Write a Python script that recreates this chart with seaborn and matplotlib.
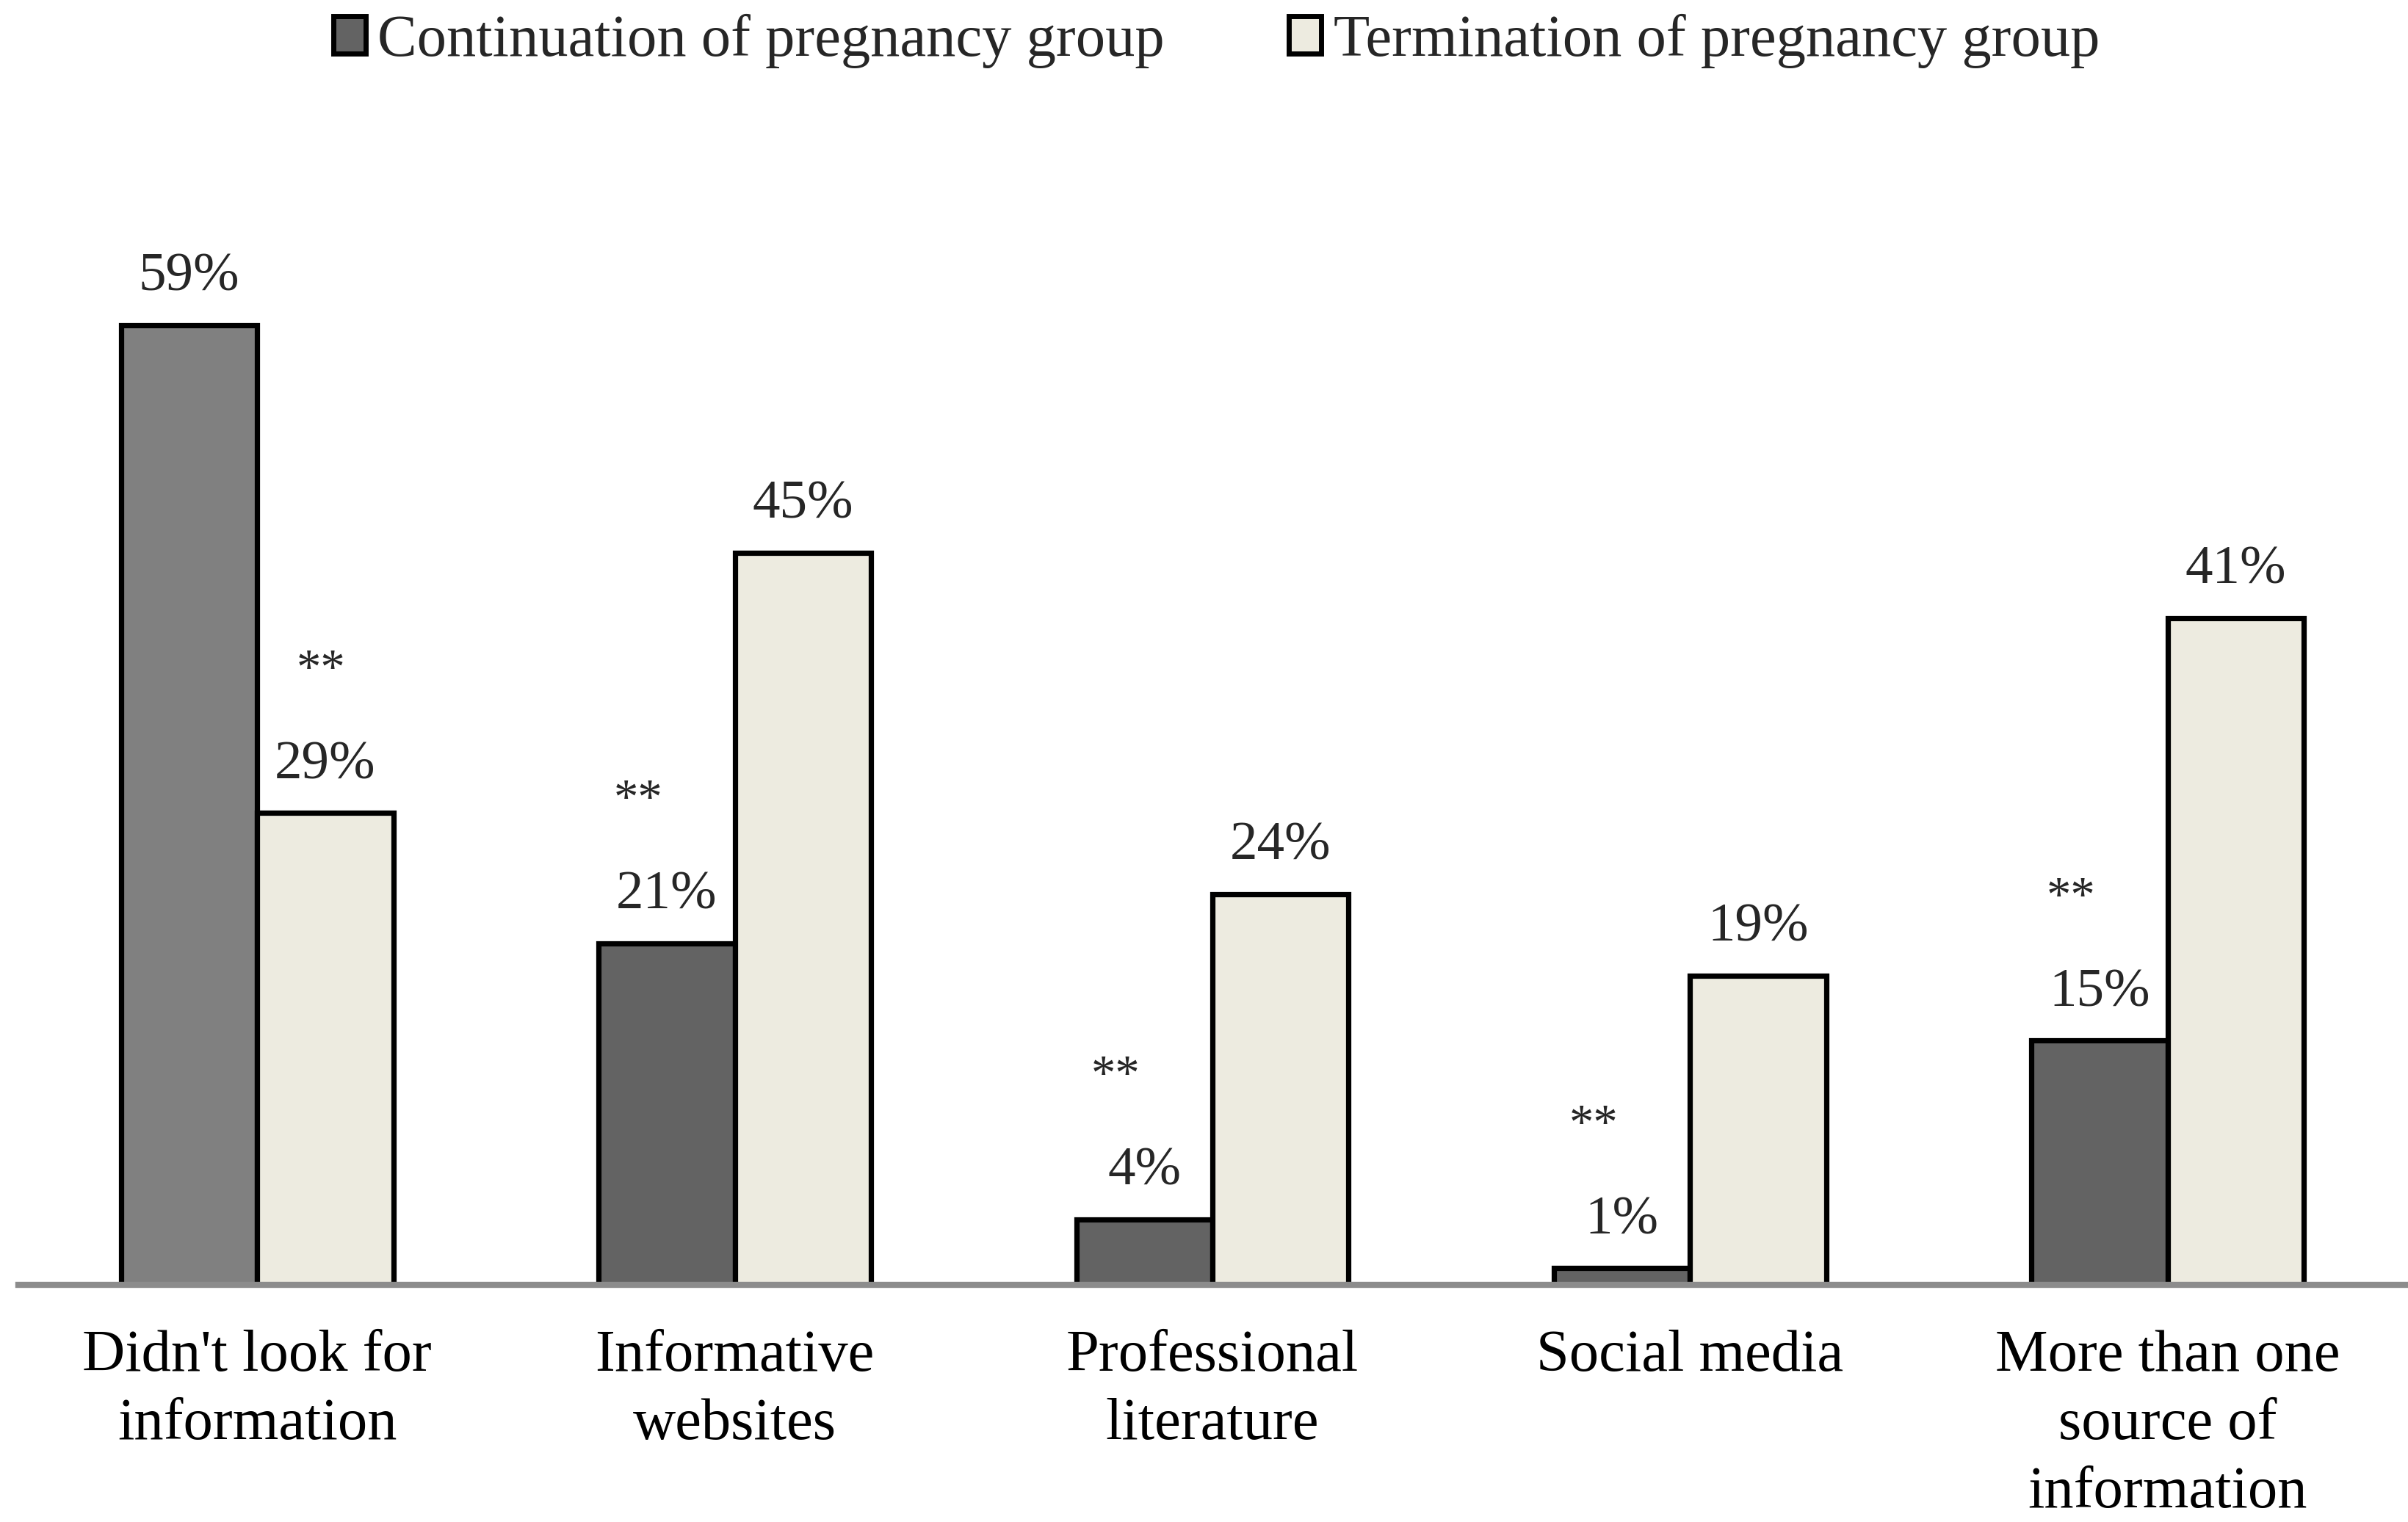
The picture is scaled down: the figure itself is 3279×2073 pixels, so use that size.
import pandas as pd
import seaborn as sns
import matplotlib.pyplot as plt
from matplotlib.patches import Patch

# -------------------------------------------------------------------
# Data
# -------------------------------------------------------------------
categories = [
    "Didn't look for\ninformation",
    "Informative\nwebsites",
    "Professional\nliterature",
    "Social media",
    "More than one\nsource of\ninformation",
]
groups = ["Continuation of pregnancy group", "Termination of pregnancy group"]
continuation = [59, 21, 4, 1, 15]
termination = [29, 45, 24, 19, 41]
# which group carries the "**" marker in each category
star_group = [groups[1], groups[0], groups[0], groups[0], groups[0]]

COLORS = {groups[0]: "#636363", groups[1]: "#EDEBE0"}
FIRST_BAR_COLOR = "#808080"

sns.set_theme(style="white")
plt.rcParams["font.family"] = ["Liberation Serif", "DejaVu Serif"]

df = pd.DataFrame({
    "category": categories * 2,
    "group": [groups[0]] * len(categories) + [groups[1]] * len(categories),
    "pct": continuation + termination,
})

fig = plt.figure(figsize=(16.4, 10.365), dpi=200)
ax = fig.add_axes([0.0076, 0.156, 0.9915, 0.705])

sns.barplot(
    data=df, x="category", y="pct", hue="group",
    order=categories, hue_order=groups,
    palette=[COLORS[g] for g in groups], saturation=1,
    width=0.57, edgecolor="black", linewidth=2.6,
    errorbar=None, legend=False, ax=ax,
)

# first bar is drawn a lighter grey in the original
ax.containers[0][0].set_facecolor(FIRST_BAR_COLOR)

values = {groups[0]: continuation, groups[1]: termination}
for container, g in zip(ax.containers, groups):
    for i, (bar, v) in enumerate(zip(container, values[g])):
        cx = bar.get_x() + bar.get_width() / 2
        ax.annotate(f"{v}%", (cx, bar.get_height()), xytext=(0, 17),
                    textcoords="offset points", ha="center", va="baseline",
                    fontsize=27)
        if star_group[i] == g:
            dx = -2 if g == groups[1] else -14
            ax.annotate("**", (cx, bar.get_height()), xytext=(dx, 64),
                        textcoords="offset points", ha="center", va="baseline",
                        fontsize=24)

ax.set_xlim(-0.5, len(categories) - 0.5)
ax.set_ylim(0, 66)
ax.set_xlabel("")
ax.set_ylabel("")
ax.set_yticks([])
for side in ["left", "top", "right"]:
    ax.spines[side].set_visible(False)
ax.spines["bottom"].set_color("#8C8C8C")
ax.spines["bottom"].set_linewidth(3)
ax.tick_params(axis="x", length=0, pad=22, labelsize=29, colors="black")
for label in ax.get_xticklabels():
    label.set_linespacing(1.36)

handles = [Patch(facecolor=COLORS[g], edgecolor="black", linewidth=2.5) for g in groups]
fig.legend(handles, groups, loc="center", bbox_to_anchor=(0.505, 0.973),
           ncol=2, frameon=False, fontsize=29, handlelength=0.55,
           handleheight=0.6, handletextpad=0.2, columnspacing=2.1)

fig.savefig("out.png", dpi=200)
plt.close(fig)
